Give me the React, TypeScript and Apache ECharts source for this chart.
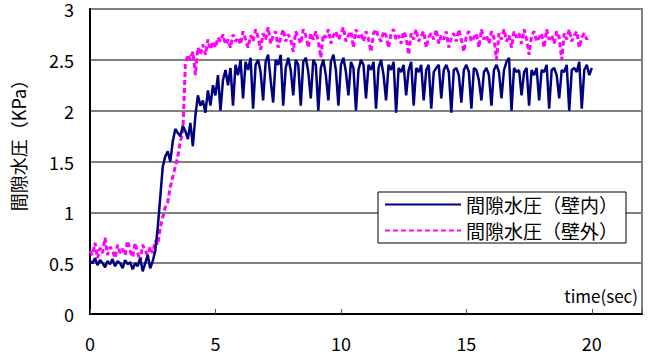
import React, { useEffect, useRef } from "react";
import * as echarts from "echarts";

const seriesNames = ["間隙水圧（壁内）", "間隙水圧（壁外）"];
const yAxisName = "間隙水圧（KPa）";
const timeStep = 0.1;
const xTicks = [0, 5, 10, 15, 20];

const inside = [
  0.52, 0.50, 0.55, 0.48, 0.53, 0.50, 0.46, 0.52, 0.49, 0.54,
  0.47, 0.52, 0.50, 0.45, 0.53, 0.49, 0.51, 0.44, 0.50, 0.47,
  0.55, 0.42, 0.50, 0.58, 0.45, 0.52, 0.62, 0.85, 1.15, 1.45,
  1.55, 1.60, 1.50, 1.70, 1.82, 1.78, 1.75, 1.85, 1.80, 1.72,
  1.88, 1.65, 1.95, 2.15, 2.05, 2.10, 1.98, 2.20, 2.05, 2.25,
  2.15, 2.35, 2.00, 2.30, 2.40, 2.25, 2.42, 2.05, 2.45, 2.35,
  2.50, 2.12, 2.48, 2.40, 2.52, 2.02, 2.45, 2.50, 2.38, 2.10,
  2.48, 2.55, 2.30, 2.08, 2.50, 2.45, 2.55, 2.05, 2.42, 2.52,
  2.40, 2.15, 2.50, 2.45, 2.05, 2.48, 2.52, 2.38, 2.12, 2.50,
  2.45, 2.00, 2.42, 2.50, 2.35, 2.10, 2.48, 2.55, 2.40, 2.05,
  2.45, 2.52, 2.38, 2.15, 2.48, 2.42, 2.00, 2.40, 2.50, 2.45,
  2.12, 2.45, 2.40, 2.48, 2.02, 2.42, 2.50, 2.35, 2.10, 2.45,
  2.40, 2.48, 1.98, 2.42, 2.38, 2.45, 2.15, 2.40, 2.48, 2.05,
  2.42, 2.38, 2.45, 2.10, 2.40, 2.45, 2.02, 2.38, 2.42, 2.45,
  2.12, 2.40, 2.45, 2.38, 1.98, 2.40, 2.42, 2.35, 2.08, 2.40,
  2.45, 2.38, 2.02, 2.42, 2.40, 2.30, 2.10, 2.38, 2.42, 2.35,
  2.05, 2.40, 2.45, 2.38, 2.12, 2.40, 2.48, 2.52, 2.00, 2.42,
  2.38, 2.40, 2.15, 2.38, 2.42, 2.05, 2.40, 2.35, 2.42, 2.10,
  2.40, 2.38, 2.45, 2.02, 2.40, 2.42, 2.35, 2.12, 2.40, 2.38,
  2.45, 2.00, 2.40, 2.42, 2.38, 2.48, 2.02, 2.40, 2.45, 2.35,
  2.42,
];

const outside = [
  0.62, 0.58, 0.70, 0.55, 0.65, 0.60, 0.75, 0.58, 0.66, 0.62,
  0.55, 0.68, 0.60, 0.64, 0.58, 0.72, 0.62, 0.56, 0.70, 0.60,
  0.52, 0.68, 0.62, 0.58, 0.66, 0.60, 0.72, 0.68, 0.85, 0.95,
  1.05, 1.10, 1.25, 1.35, 1.45, 1.55, 1.70, 1.78, 2.45, 2.55,
  2.50, 2.58, 2.35, 2.62, 2.55, 2.65, 2.55, 2.70, 2.60, 2.68,
  2.62, 2.72, 2.68, 2.75, 2.65, 2.70, 2.62, 2.75, 2.68, 2.72,
  2.65, 2.78, 2.70, 2.62, 2.74, 2.68, 2.80, 2.72, 2.60, 2.76,
  2.70, 2.82, 2.66, 2.74, 2.78, 2.62, 2.72, 2.80, 2.68, 2.75,
  2.70, 2.58, 2.78, 2.72, 2.66, 2.80, 2.74, 2.62, 2.76, 2.70,
  2.78, 2.68, 2.52, 2.75, 2.72, 2.80, 2.66, 2.74, 2.78, 2.70,
  2.75, 2.82, 2.68, 2.74, 2.78, 2.62, 2.80, 2.72, 2.76, 2.68,
  2.78, 2.70, 2.58, 2.76, 2.80, 2.72, 2.68, 2.78, 2.74, 2.62,
  2.76, 2.80, 2.70, 2.74, 2.66, 2.78, 2.72, 2.55, 2.76, 2.70,
  2.80, 2.68, 2.74, 2.78, 2.62, 2.72, 2.76, 2.70, 2.80, 2.66,
  2.74, 2.70, 2.78, 2.62, 2.72, 2.76, 2.68, 2.80, 2.70, 2.58,
  2.74, 2.78, 2.68, 2.72, 2.76, 2.62, 2.80, 2.70, 2.74, 2.66,
  2.78, 2.72, 2.50, 2.76, 2.70, 2.80, 2.68, 2.74, 2.62, 2.78,
  2.72, 2.76, 2.66, 2.80, 2.70, 2.55, 2.74, 2.78, 2.68, 2.72,
  2.76, 2.62, 2.80, 2.70, 2.74, 2.66, 2.78, 2.72, 2.50, 2.76,
  2.70, 2.80, 2.68, 2.74, 2.78, 2.62, 2.72, 2.76, 2.70, 2.74,
];

const toPairs = (vals: number[]) =>
  vals.map((v, i) => [Math.round(i * timeStep * 10) / 10, v]);

const FONT = "'Noto Sans CJK JP', 'Noto Sans', sans-serif";

export default function App() {
  const ref = useRef<HTMLDivElement>(null);
  useEffect(() => {
    if (!ref.current) return;
    const chart = echarts.init(ref.current, undefined, { renderer: "svg" });
    chart.setOption({
      animation: false,
      backgroundColor: "#ffffff",
      textStyle: { fontFamily: FONT },
      grid: {
        left: 90,
        right: 10,
        top: 8,
        bottom: 44,
        show: true,
        borderColor: "#808080",
        borderWidth: 2,
      },
      legend: {
        orient: "vertical",
        left: 378,
        top: 192,
        itemWidth: 76,
        itemHeight: 10,
        itemGap: 7,
        padding: [3, 8, 3, 6],
        backgroundColor: "#ffffff",
        borderColor: "#000000",
        borderWidth: 1,
        borderRadius: 0,
        itemStyle: { opacity: 0 },
        textStyle: { fontSize: 19, color: "#000", fontFamily: FONT },
        data: seriesNames,
      },
      xAxis: {
        type: "value",
        min: 0,
        max: 22,
        interval: 5,
        axisLine: { lineStyle: { color: "#000", width: 2 } },
        axisTick: { inside: true, length: 5, lineStyle: { color: "#555", width: 1 } },
        splitLine: { show: false },
        axisLabel: {
          fontSize: 18,
          color: "#000",
          margin: 20,
          formatter: (v: number) => (xTicks.includes(v) ? String(v) : ""),
        },
      },
      yAxis: {
        type: "value",
        min: 0,
        max: 3,
        interval: 0.5,
        axisLine: { show: true, lineStyle: { color: "#000", width: 2 } },
        axisTick: { show: false },
        splitLine: { lineStyle: { color: "#808080", width: 2 } },
        axisLabel: { fontSize: 18, lineHeight: 15, color: "#000", margin: 16 },
      },
      graphic: [
        {
          type: "text",
          x: 18,
          y: 141,
          rotation: Math.PI / 2,
          style: {
            text: yAxisName,
            fontSize: 18,
            fill: "#000",
            fontFamily: FONT,
            align: "center",
            verticalAlign: "middle",
          },
        },
        {
          type: "text",
          right: 14,
          top: 287,
          style: { text: "time(sec)", fontSize: 17, fill: "#000", fontFamily: FONT },
        },
      ],
      series: [
        {
          name: seriesNames[1],
          type: "line",
          data: toPairs(outside),
          showSymbol: false,
          symbol: "none",
          lineStyle: { color: "#ff00ff", width: 3, type: [5, 3] },
          itemStyle: { color: "#ff00ff" },
          z: 2,
        },
        {
          name: seriesNames[0],
          type: "line",
          data: toPairs(inside),
          showSymbol: false,
          symbol: "none",
          lineStyle: { color: "#000080", width: 2.5 },
          itemStyle: { color: "#000080" },
          z: 3,
        },
      ],
    });
    return () => chart.dispose();
  }, []);
  return <div ref={ref} style={{ width: 652, height: 358, position: "absolute", left: 0, top: 0 }} />;
}
